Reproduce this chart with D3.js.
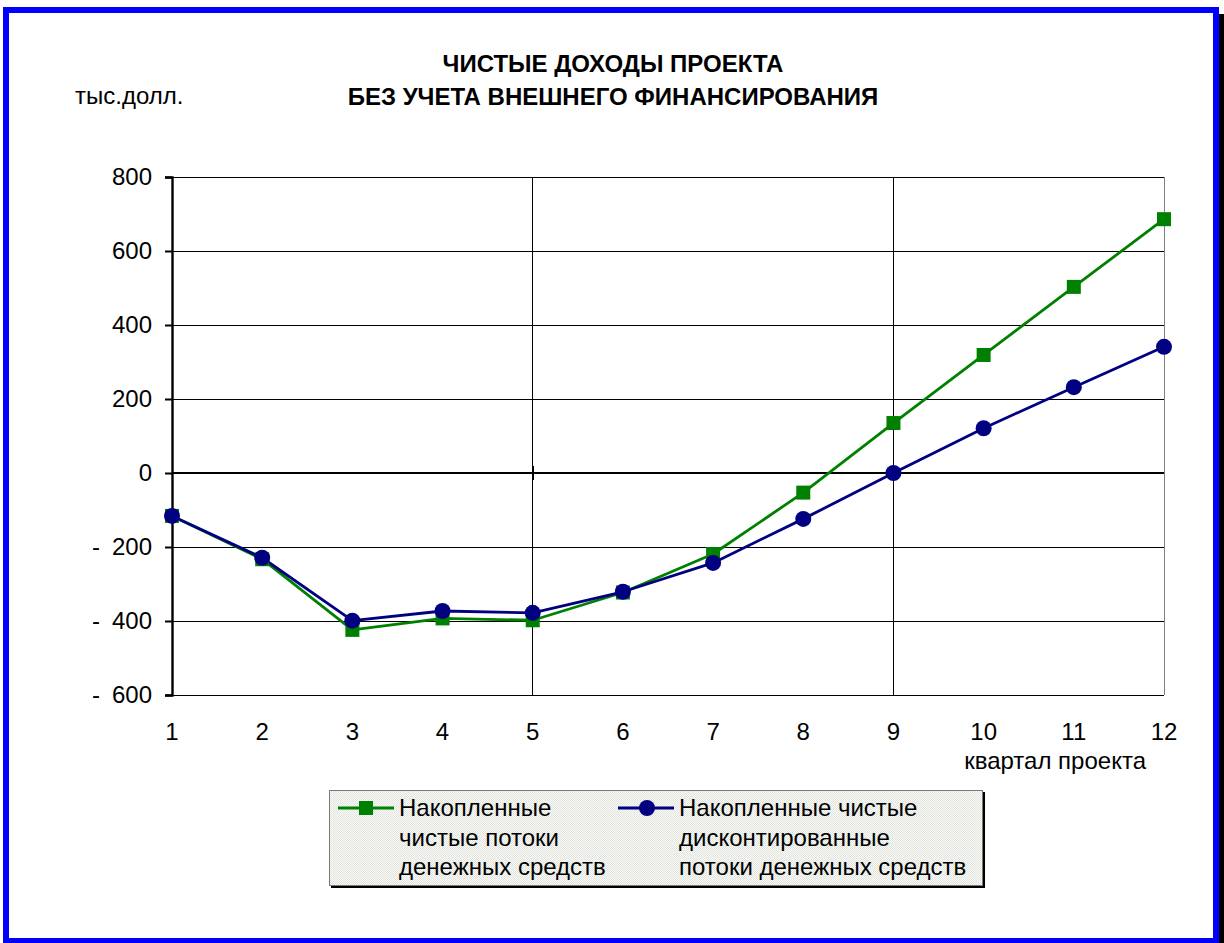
<!DOCTYPE html>
<html>
<head>
<meta charset="utf-8">
<script src="https://cdn.jsdelivr.net/npm/d3@7"></script>
<style>
  html, body { margin: 0; padding: 0; background: #fff; }
  svg { display: block; font-family: "Liberation Sans", Arial, sans-serif; }
  .grid line { shape-rendering: crispEdges; }
</style>
</head>
<body>
<svg id="chart" width="1224" height="943"></svg>
<script>
// Quarters of the project
const quarters = [1, 2, 3, 4, 5, 6, 7, 8, 9, 10, 11, 12];
// Accumulated net cash flows, thousand USD
const cumulativeFlows = [-116, -233, -424, -393, -398, -323, -219, -53, 135, 319, 503, 686];
// Accumulated discounted net cash flows, thousand USD
const cumulativeDiscounted = [-116, -229, -399, -373, -378, -321, -243, -124, 0, 121, 232, 341];
// Value axis ticks
const yTicks = [800, 600, 400, 200, 0, -200, -400, -600];
// Quarters that carry a vertical gridline
const xGridQuarters = [5, 9];

const titleLines = ["ЧИСТЫЕ ДОХОДЫ ПРОЕКТА", "БЕЗ УЧЕТА ВНЕШНЕГО ФИНАНСИРОВАНИЯ"];
const unitLabel = "тыс.долл.";
const xAxisLabel = "квартал проекта";
const seriesNames = [
  ["Накопленные", "чистые потоки", "денежных средств"],
  ["Накопленные чистые", "дисконтированные", "потоки денежных средств"]
];
const seriesColors = ["#008000", "#000080"];

const FONT = 24;
const svg = d3.select("#chart");

// Frame with drop shadow
svg.append("rect").attr("x", 1219).attr("y", 14).attr("width", 5).attr("height", 929).attr("fill", "#000");
svg.append("rect").attr("x", 6).attr("y", 10).attr("width", 1210).attr("height", 931)
  .attr("fill", "#fff").attr("stroke", "#0000ff").attr("stroke-width", 6);

const x = d3.scalePoint().domain(quarters).range([172, 1164]);
const y = d3.scaleLinear().domain([-600, 800]).range([695, 177]);

const grid = svg.append("g").attr("class", "grid");

// Horizontal gridlines
grid.append("g").selectAll("line").data(yTicks.filter(v => v !== 0)).join("line")
  .attr("x1", x(1)).attr("x2", x(12))
  .attr("y1", d => y(d)).attr("y2", d => y(d))
  .attr("stroke", "#000").attr("stroke-width", 1);

// Vertical gridlines
grid.append("g").selectAll("line").data(xGridQuarters).join("line")
  .attr("x1", d => x(d)).attr("x2", d => x(d))
  .attr("y1", y(800)).attr("y2", y(-600))
  .attr("stroke", "#000").attr("stroke-width", 1);

// Right edge of the plot area
grid.append("line").attr("x1", x(12)).attr("x2", x(12)).attr("y1", y(800)).attr("y2", y(-600))
  .attr("stroke", "#808080").attr("stroke-width", 1);

// Zero line (category axis)
grid.append("line").attr("x1", x(1)).attr("x2", x(12)).attr("y1", y(0)).attr("y2", y(0))
  .attr("stroke", "#000").attr("stroke-width", 2);
grid.append("g").selectAll("line").data(xGridQuarters).join("line")
  .attr("x1", d => x(d)).attr("x2", d => x(d))
  .attr("y1", y(0) - 7).attr("y2", y(0) + 7)
  .attr("stroke", "#000").attr("stroke-width", 2);

// Value axis
const yAxis = svg.append("g").attr("transform", `translate(${x(1)},0)`)
  .call(d3.axisLeft(y).tickValues(yTicks).tickSize(7).tickPadding(13)
    .tickFormat(d => String(Math.abs(d))));
yAxis.select(".domain").attr("stroke", "#000").attr("stroke-width", 2.4);
yAxis.selectAll(".tick line").attr("stroke", "#000").attr("stroke-width", 2);
yAxis.selectAll(".tick text").attr("font-size", FONT).attr("fill", "#000")
  .attr("font-family", "Liberation Sans, Arial, sans-serif");
yAxis.selectAll(".tick").filter(d => d < 0).append("text")
  .attr("x", 96 - x(1)).attr("dy", "0.32em").attr("text-anchor", "middle")
  .attr("font-size", FONT).attr("fill", "#000").attr("font-family", "Liberation Sans, Arial, sans-serif")
  .text("-");

// Category labels
svg.append("g").selectAll("text").data(quarters).join("text")
  .attr("x", d => x(d)).attr("y", 740).attr("text-anchor", "middle")
  .attr("font-size", FONT).attr("fill", "#000")
  .text(d => d);

svg.append("text").attr("x", 1146).attr("y", 769).attr("text-anchor", "end")
  .attr("font-size", FONT).attr("fill", "#000").text(xAxisLabel);

// Titles
svg.append("g").selectAll("text").data(titleLines).join("text")
  .attr("x", 613).attr("y", (d, i) => 72 + i * 33).attr("text-anchor", "middle")
  .attr("font-size", FONT).attr("font-weight", "bold").attr("fill", "#000")
  .text(d => d);
svg.append("text").attr("x", 75).attr("y", 104).attr("font-size", FONT).attr("fill", "#000").text(unitLabel);

// Series
const seriesData = [cumulativeFlows, cumulativeDiscounted];
const line = d3.line().x((d, i) => x(quarters[i])).y(d => y(d));
seriesData.forEach((vals, s) => {
  svg.append("path").datum(vals).attr("d", line)
    .attr("fill", "none").attr("stroke", seriesColors[s]).attr("stroke-width", 2.8)
    .attr("stroke-linejoin", "round");
});
// Squares for accumulated flows
svg.append("g").selectAll("rect").data(cumulativeFlows).join("rect")
  .attr("x", (d, i) => x(quarters[i]) - 7).attr("y", d => y(d) - 7)
  .attr("width", 14).attr("height", 14).attr("fill", seriesColors[0]);
// Circles for discounted flows
svg.append("g").selectAll("circle").data(cumulativeDiscounted).join("circle")
  .attr("cx", (d, i) => x(quarters[i])).attr("cy", d => y(d)).attr("r", 8)
  .attr("fill", seriesColors[1]);

// Legend
const defs = svg.append("defs");
const pat = defs.append("pattern").attr("id", "legendFill").attr("width", 2).attr("height", 2)
  .attr("patternUnits", "userSpaceOnUse");
pat.append("rect").attr("width", 2).attr("height", 2).attr("fill", "#fbfcfa");
pat.append("rect").attr("width", 1).attr("height", 1).attr("fill", "#dfe3dc");
pat.append("rect").attr("x", 1).attr("y", 1).attr("width", 1).attr("height", 1).attr("fill", "#dfe3dc");

svg.append("rect").attr("x", 331).attr("y", 792).attr("width", 654).attr("height", 96).attr("fill", "#000");
svg.append("rect").attr("x", 329.5).attr("y", 790.5).attr("width", 653).attr("height", 95)
  .attr("fill", "url(#legendFill)").attr("stroke", "#7a7a7a").attr("stroke-width", 1);

const legendX = [338, 618];
seriesNames.forEach((lines, s) => {
  const g = svg.append("g").attr("transform", `translate(${legendX[s]},808)`);
  g.append("line").attr("x1", 0).attr("x2", 56).attr("stroke", seriesColors[s]).attr("stroke-width", 2.8);
  if (s === 0) {
    g.append("rect").attr("x", 21).attr("y", -7).attr("width", 14).attr("height", 14).attr("fill", seriesColors[s]);
  } else {
    g.append("circle").attr("cx", 29).attr("r", 8).attr("fill", seriesColors[s]);
  }
  g.selectAll("text").data(lines).join("text")
    .attr("x", 61).attr("y", (d, i) => 8 + i * 29.5)
    .attr("font-size", FONT).attr("fill", "#000").text(d => d);
});
</script>
</body>
</html>
